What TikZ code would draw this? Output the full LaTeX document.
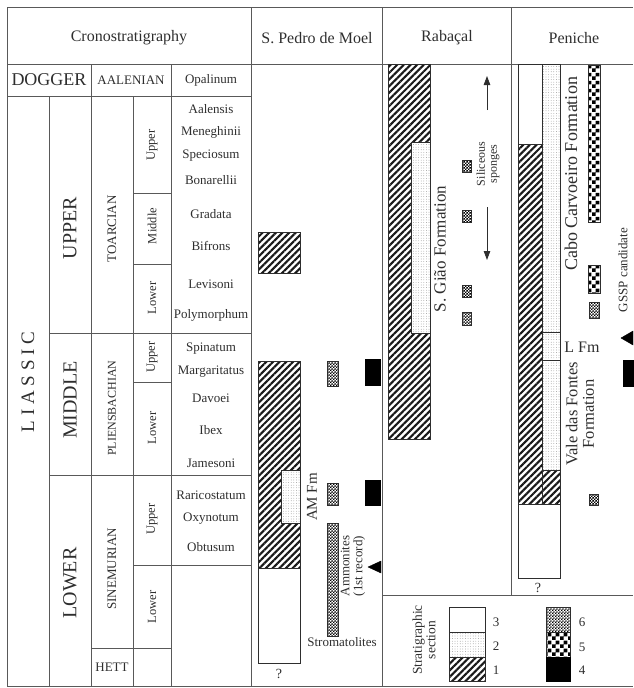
\documentclass[tikz,border=0pt]{standalone}
\usepackage{fontspec}
\setmainfont{Liberation Serif}
\usetikzlibrary{patterns,patterns.meta,arrows.meta}
\definecolor{ink}{gray}{0.18}
\definecolor{rulec}{gray}{0.35}
\newcommand\myfs[1]{\fontsize{#1}{#1}\selectfont}
\pgfdeclarepatternformonly{bigcheck}{\pgfpointorigin}{\pgfqpoint{8pt}{8pt}}{\pgfqpoint{8pt}{8pt}}{%
  \pgfpathrectangle{\pgfpointorigin}{\pgfqpoint{4pt}{4pt}}%
  \pgfpathrectangle{\pgfqpoint{4pt}{4pt}}{\pgfqpoint{4pt}{4pt}}%
  \pgfusepath{fill}}
\pgfdeclarepatternformonly{smallcheck}{\pgfpointorigin}{\pgfqpoint{2.8pt}{2.8pt}}{\pgfqpoint{2.8pt}{2.8pt}}{%
  \pgfpathrectangle{\pgfpointorigin}{\pgfqpoint{1.4pt}{1.4pt}}%
  \pgfpathrectangle{\pgfqpoint{1.4pt}{1.4pt}}{\pgfqpoint{1.4pt}{1.4pt}}%
  \pgfusepath{fill}}
\begin{document}
\begin{tikzpicture}[x=1pt,y=-1pt,
  tline/.style={draw=rulec,line width=0.8pt},
  txt/.style={text=ink,inner sep=0pt},
  hdr/.style={txt,font=\myfs{16}},
  zone/.style={txt,font=\myfs{13}},
  era/.style={txt,font=\myfs{20},rotate=90},
  stage/.style={txt,font=\myfs{13},rotate=90},
  subst/.style={txt,font=\myfs{12.5},rotate=90},
  fmlabel/.style={txt,font=\myfs{17},rotate=90},
  note/.style={txt,font=\myfs{13},align=center},
  rnote/.style={note,rotate=90},
  boxline/.style={draw=ink,line width=0.7pt},
  whitebox/.style={boxline,fill=white},
  hatchbox/.style={boxline,preaction={fill=white},pattern={Lines[angle=45,distance=4.7pt,line width=2.1pt]},pattern color=black!90},
  dotbox/.style={boxline,preaction={fill=white},pattern={Dots[distance=2.6pt,radius=0.35pt]},pattern color=black!55},
  bigcheckbox/.style={boxline,preaction={fill=white},pattern=bigcheck,pattern color=black},
  smallcheckbox/.style={boxline,preaction={fill=white},pattern=smallcheck,pattern color=black},
  blackbox/.style={draw=black,fill=black},
  arr/.style={draw=ink,line width=0.8pt,-{Triangle[length=9pt,width=6.5pt]}}
]
\useasboundingbox (0,0) rectangle (633,688);
% ---------- table frame ----------
\draw[tline] (7,7) -- (633,7);
\draw[tline] (7,686) -- (633,686);
\draw[tline] (7,7) -- (7,686);
\draw[tline] (7,64) -- (633,64);
\draw[tline] (251,7) -- (251,686);
\draw[tline] (382,7) -- (382,686);
\draw[tline] (511,7) -- (511,595);
\draw[tline] (382,595) -- (633,595);
\draw[tline] (7,96) -- (251,96);
\draw[tline] (91,64) -- (91,686);
\draw[tline] (171,64) -- (171,686);
\draw[tline] (49,96) -- (49,686);
\draw[tline] (133,96) -- (133,686);
\draw[tline] (49,333) -- (251,333);
\draw[tline] (49,475) -- (251,475);
\draw[tline] (133,193) -- (171,193);
\draw[tline] (133,264) -- (171,264);
\draw[tline] (133,382) -- (171,382);
\draw[tline] (133,565) -- (251,565);
\draw[tline] (91,648) -- (171,648);
% ---------- headers ----------
\node[hdr] (hcrono) at (129,38) {Cronostratigraphy};
\node[hdr] (hpedro) at (317,38) {S. Pedro de Moel};
\node[hdr] (hraba) at (447,38) {Rabaçal};
\node[hdr] (hpeni) at (574,38) {Peniche};
% ---------- chronostratigraphy ----------
\node[txt,font=\myfs{18}] (dogger) at (49,80) {DOGGER};
\node[txt,font=\myfs{13}] (aalen) at (131,80) {AALENIAN};
\node[era,font=\myfs{19}] (liassic) at (28,382) {L I A S S I C};
\node[era] (upper) at (70,228) {UPPER};
\node[era] (middle) at (70,400) {MIDDLE};
\node[era] (lower) at (70,583) {LOWER};
\node[stage] (toarc) at (112,229) {TOARCIAN};
\node[stage,font=\myfs{12}] (plien) at (112,408) {PLIENSBACHIAN};
\node[stage] (sinem) at (112,569) {SINEMURIAN};
\node[txt,font=\myfs{13}] (hett) at (112,667) {HETT};
\node[subst] (tup) at (152,145) {Upper};
\node[subst] (tmid) at (152,226) {Middle};
\node[subst] (tlow) at (152,298) {Lower};
\node[subst] (pup) at (152,357) {Upper};
\node[subst] (plow) at (152,428) {Lower};
\node[subst] (sup1) at (152,519) {Upper};
\node[subst] (slow) at (152,607) {Lower};
% ammonite zones
\node[zone] (z1) at (211,80) {Opalinum};
\node[zone] (z2) at (211,109) {Aalensis};
\node[zone] (z3) at (211,132) {Meneghinii};
\node[zone] (z4) at (211,156) {Speciosum};
\node[zone] (z5) at (211,180) {Bonarellii};
\node[zone] (z6) at (211,214) {Gradata};
\node[zone] (z7) at (211,246) {Bifrons};
\node[zone] (z8) at (211,284) {Levisoni};
\node[zone] (z9) at (211,315) {Polymorphum};
\node[zone] (z10) at (211,349) {Spinatum};
\node[zone] (z11) at (211,372) {Margaritatus};
\node[zone] (z12) at (211,398) {Davoei};
\node[zone] (z13) at (211,430) {Ibex};
\node[zone] (z14) at (211,463) {Jamesoni};
\node[zone] (z15) at (211,495) {Raricostatum};
\node[zone] (z16) at (211,519) {Oxynotum};
\node[zone] (z17) at (211,547) {Obtusum};
% ---------- S. Pedro de Moel ----------
\draw[hatchbox] (258,232) rectangle (300,273);
\draw[hatchbox] (258,361) rectangle (300,568);
\draw[dotbox] (281,470) rectangle (300,523);
\draw[whitebox] (258,568) rectangle (300,663);
\node[txt,font=\myfs{14}] (q1) at (279,674) {?};
\node[fmlabel,font=\myfs{15}] (amfm) at (312,497) {AM Fm};
\draw[smallcheckbox] (327,361) rectangle (338,386);
\draw[smallcheckbox] (327,483) rectangle (338,505);
\draw[smallcheckbox] (327,523) rectangle (338,636);
\draw[blackbox] (365,359) rectangle (380,385);
\draw[blackbox] (365,480) rectangle (380,505);
\draw[fill=black,draw=black] (368,567) -- (381,561) -- (381,573) -- cycle;
\node[rnote] (ammon) at (353,566) {Ammonites\\(1st record)};
\node[note] (strom) at (342,642) {Stromatolites};
% ---------- Rabaçal ----------
\draw[hatchbox] (388,64) rectangle (430,439);
\draw[dotbox] (411,142) rectangle (430,333);
\node[fmlabel] (sgiao) at (440,249) {S. Gião Formation};
\draw[smallcheckbox] (462,160) rectangle (471,172);
\draw[smallcheckbox] (462,210) rectangle (471,222);
\draw[smallcheckbox] (462,285) rectangle (471,297);
\draw[smallcheckbox] (462,312) rectangle (471,325);
\node[rnote,font=\myfs{12}] (sponges) at (488,164) {Siliceous\\sponges};
\coordinate (upS) at (487,110);
\coordinate (upT) at (487,76);
\coordinate (dnS) at (487,207);
\coordinate (dnT) at (487,260);
\draw[arr] (upS) -- (upT);
\draw[arr] (dnS) -- (dnT);
% ---------- Peniche ----------
\draw[whitebox] (518,64) rectangle (542,144);
\draw[hatchbox] (518,144) rectangle (542,504);
\draw[dotbox] (542,64) rectangle (560,332);
\draw[dotbox] (542,332) rectangle (560,360);
\draw[dotbox] (542,360) rectangle (560,470);
\draw[hatchbox] (542,470) rectangle (560,504);
\draw[whitebox] (518,504) rectangle (560,578);
\node[txt,font=\myfs{14}] (q2) at (538,588) {?};
\node[fmlabel,font=\myfs{18}] (cabo) at (571,174) {Cabo Carvoeiro Formation};
\node[txt,font=\myfs{16}] (lfm) at (582,347) {L Fm};
\node[fmlabel,align=center,font=\myfs{16.5}] (vale) at (580,414) {Vale das Fontes\\Formation};
\draw[bigcheckbox] (588,65) rectangle (600,222);
\draw[bigcheckbox] (588,265) rectangle (600,293);
\draw[smallcheckbox] (589,302) rectangle (599,318);
\draw[smallcheckbox] (589,494) rectangle (598,505);
\node[rnote] (gssp) at (623,270) {GSSP candidate};
\draw[fill=black,draw=black] (621,338) -- (633,331) -- (633,345) -- cycle;
\draw[blackbox] (623,360) rectangle (634,386);
% ---------- legend ----------
\node[rnote,font=\myfs{13.5}] (stratsec) at (424,640) {Stratigraphic\\section};
\draw[whitebox] (449,607) rectangle (485,632);
\draw[dotbox] (449,632) rectangle (485,657);
\draw[hatchbox] (449,657) rectangle (485,681);
\node[note] (l3) at (496,622) {3};
\node[note] (l2) at (496,646) {2};
\node[note] (l1) at (496,670) {1};
\draw[smallcheckbox] (546,607) rectangle (570,632);
\draw[bigcheckbox] (546,632) rectangle (570,657);
\draw[blackbox] (546,657) rectangle (570,681);
\node[note] (l6) at (582,622) {6};
\node[note] (l5) at (582,647) {5};
\node[note] (l4) at (582,670) {4};
\end{tikzpicture}
\end{document}
